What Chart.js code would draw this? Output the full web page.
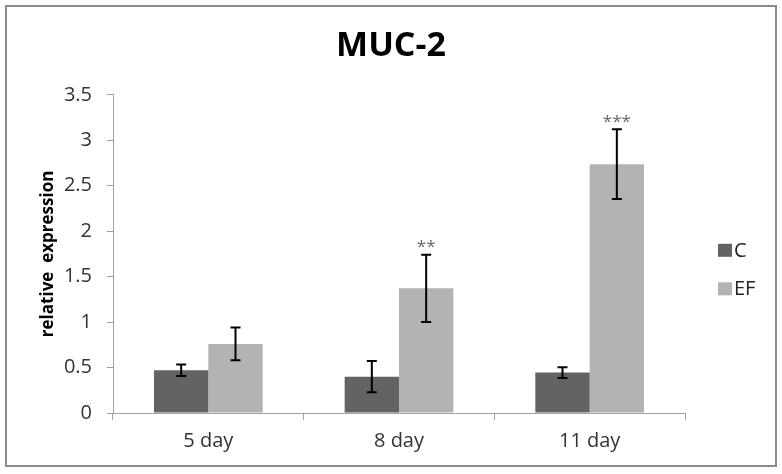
<!DOCTYPE html>
<html>
<head>
<meta charset="utf-8">
<title>MUC-2</title>
<script src="https://cdn.jsdelivr.net/npm/chart.js"></script>
<style>
  html, body { margin: 0; padding: 0; background: #fff; }
  #wrap { position: relative; width: 782px; height: 474px; }
  #frame { position: absolute; left: 5px; top: 5px; width: 768px; height: 458px;
           border: 2px solid #8c8c8c; pointer-events: none; }
</style>
</head>
<body>
<div id="wrap">
  <canvas id="chart" width="782" height="474"></canvas>
  <div id="frame"></div>
</div>
<script>
const categories = ['5 day', '8 day', '11 day'];
const seriesNames = ['C', 'EF'];
const valuesC = [0.47, 0.40, 0.445];
const errorC = [0.064, 0.172, 0.059];
const valuesEF = [0.76, 1.372, 2.737];
const errorEF = [0.18, 0.37, 0.384];
const starsEF = ['', '**', '***'];
const yTicks = [0, 0.5, 1, 1.5, 2, 2.5, 3, 3.5];

const FONT = '"Open Sans", "DejaVu Sans", sans-serif';
const AXIS_GREY = '#a0a0a0';

// error bars + significance stars, drawn from the bar elements and y scale
const errorBars = {
  id: 'errorBars',
  afterDatasetsDraw(chart) {
    const ctx = chart.ctx;
    const y = chart.scales.y;
    ctx.save();
    chart.data.datasets.forEach((ds, i) => {
      const meta = chart.getDatasetMeta(i);
      meta.data.forEach((bar, j) => {
        const v = ds.data[j], e = ds.errors[j];
        const top = y.getPixelForValue(v + e);
        const bot = y.getPixelForValue(v - e);
        ctx.strokeStyle = '#000';
        ctx.lineWidth = 2;
        ctx.beginPath();
        ctx.moveTo(bar.x, top); ctx.lineTo(bar.x, bot);
        ctx.moveTo(bar.x - 5, top); ctx.lineTo(bar.x + 5, top);
        ctx.moveTo(bar.x - 5, bot); ctx.lineTo(bar.x + 5, bot);
        ctx.stroke();
        if (ds.stars && ds.stars[j]) {
          ctx.fillStyle = '#666';
          ctx.font = '17px ' + FONT;
          ctx.textAlign = 'center';
          ctx.textBaseline = 'alphabetic';
          ctx.fillText(ds.stars[j], bar.x, top - 2.5);
        }
      });
    });
    ctx.restore();
  }
};

// Excel-style legend on the right side of the plot
const sideLegend = {
  id: 'sideLegend',
  afterDraw(chart) {
    const ctx = chart.ctx;
    const area = chart.chartArea;
    ctx.save();
    ctx.font = '20px ' + FONT;
    ctx.textBaseline = 'middle';
    ctx.textAlign = 'left';
    chart.data.datasets.forEach((ds, i) => {
      const bx = area.right + 33;
      const by = area.top + 149 + i * 38.5;
      ctx.fillStyle = ds.backgroundColor;
      ctx.fillRect(bx, by, 14, 13);
      ctx.fillStyle = '#222';
      ctx.fillText(ds.label, bx + 16, by + 7);
    });
    ctx.restore();
  }
};

new Chart(document.getElementById('chart'), {
  type: 'bar',
  data: {
    labels: categories,
    datasets: [
      { label: seriesNames[0], data: valuesC, errors: errorC, backgroundColor: '#636363',
        categoryPercentage: 0.57, barPercentage: 1.0 },
      { label: seriesNames[1], data: valuesEF, errors: errorEF, stars: starsEF, backgroundColor: '#b3b3b3',
        categoryPercentage: 0.57, barPercentage: 1.0 }
    ]
  },
  options: {
    responsive: false,
    animation: false,
    layout: { padding: 0 },
    plugins: {
      legend: { display: false },
      tooltip: { enabled: false },
      title: {
        display: true,
        text: 'MUC-2',
        color: '#000',
        font: { family: FONT, size: 34, weight: 'bold' },
        padding: { top: 26, bottom: 28 }
      }
    },
    scales: {
      x: {
        grid: { drawOnChartArea: false, drawTicks: true, tickLength: 7, color: AXIS_GREY, offset: true },
        border: { color: AXIS_GREY, width: 1 },
        ticks: { color: '#333', font: { family: FONT, size: 20 }, padding: 9 },
        afterFit: s => { s.height = 61; }
      },
      y: {
        min: 0,
        max: 3.5,
        afterBuildTicks: s => { s.ticks = yTicks.map(v => ({ value: v })); },
        grid: { drawOnChartArea: false, drawTicks: true, tickLength: 6, color: AXIS_GREY },
        border: { color: AXIS_GREY, width: 1 },
        ticks: { color: '#333', font: { family: FONT, size: 20 }, padding: 15,
                 callback: v => String(v) },
        title: {
          display: true,
          text: 'relative  expression',
          color: '#000',
          font: { family: FONT, size: 17, weight: 'bold' },
          padding: { top: 38, bottom: 0 }
        },
        afterFit: s => { s.width = 113; }
      },
      yRight: {
        position: 'right',
        display: true,
        grid: { display: false },
        border: { display: false },
        ticks: { display: false },
        afterFit: s => { s.width = 97; }
      }
    }
  },
  plugins: [errorBars, sideLegend]
});
</script>
</body>
</html>
